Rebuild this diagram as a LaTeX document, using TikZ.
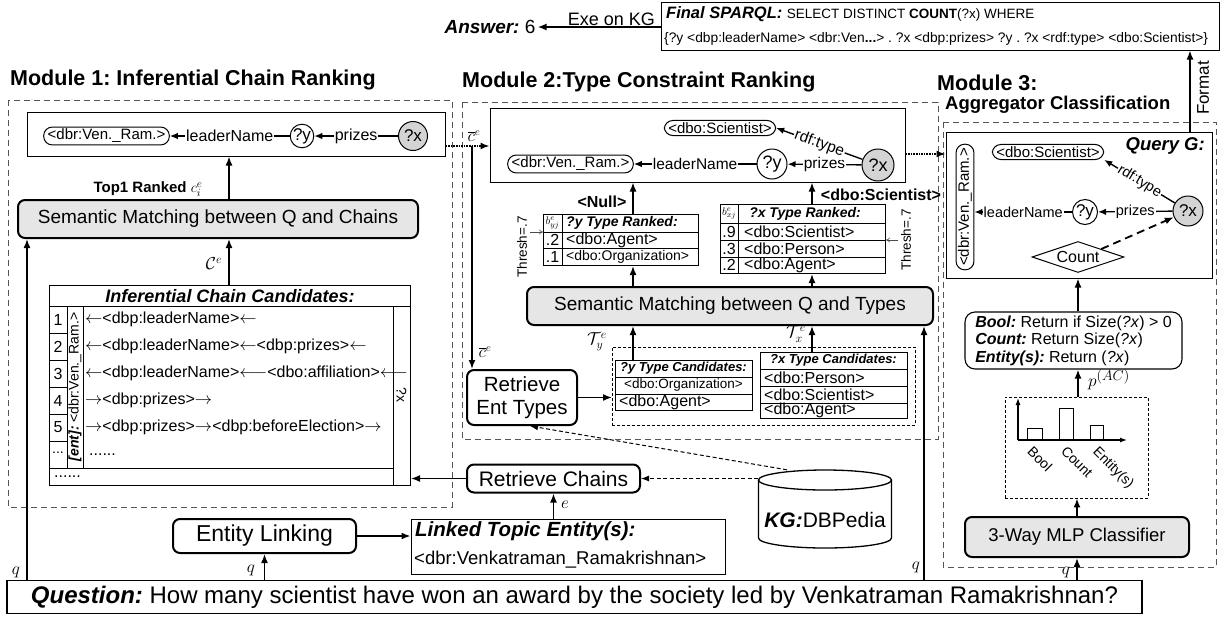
\documentclass[tikz,border=0pt]{standalone}
\usepackage{fontspec}
\setmainfont{Liberation Sans}
\usetikzlibrary{arrows.meta,shapes.geometric,calc}
\newcommand\fs[2]{\fontsize{#1}{#2}\selectfont}
\definecolor{boxgray}{HTML}{E6E6E6}
\definecolor{nodegray}{HTML}{D4D4D4}
\definecolor{dashgray}{HTML}{555555}
\frenchspacing
\begin{document}
\begin{tikzpicture}[x=1pt,y=-1pt,
  arr/.style={line width=1.6pt,-{Latex[length=9pt,width=7pt]}},
  garr/.style={line width=1.4pt,-{Latex[length=8pt,width=6.5pt]}},
  dotarr/.style={line width=1.6pt,densely dotted,-{Latex[length=9pt,width=7pt]}},
  dasharr/.style={line width=1pt,dash pattern=on 4pt off 2.5pt,-{Latex[length=8pt,width=6pt]}},
  thinarr/.style={line width=0.6pt,draw=black!70,-{To[length=4pt,width=5pt]}},
  modbox/.style={draw=dashgray,line width=0.8pt,dash pattern=on 6pt off 4pt},
  rbox/.style={draw,line width=2pt,rounded corners=7pt,align=center,inner sep=0pt,fill=white},
  gbox/.style={rbox,fill=boxgray},
  plainbox/.style={draw,line width=1pt,inner sep=0pt},
  pill/.style={draw,line width=1pt,rounded corners=8.5pt,inner xsep=4pt,inner ysep=2pt,fill=white},
  circ/.style={draw,circle,line width=1pt,inner sep=0pt,fill=white},
  xcirc/.style={circ,fill=nodegray},
  elab/.style={fill=white,inner sep=1pt},
  title/.style={font=\fs{21.5}{24}\bfseries,anchor=west,inner sep=0pt},
  tline/.style={line width=0.9pt},
  rowt/.style={anchor=west,inner sep=0pt,font=\fs{16}{18}},
  lbl/.style={inner sep=0pt},
]
\fill[white] (0,0) rectangle (1223,619);
\useasboundingbox (0,0) rectangle (1223,619);

% ---------------- top ----------------
\node[plainbox,minimum width=558,minimum height=48] (sparql) at (940,26) {};
\node[lbl,anchor=west] (sq1) at (666,14) {\fs{16.5}{18}\textbf{\textit{Final SPARQL:}} \fs{13.5}{16}SELECT DISTINCT \textbf{COUNT}(?x) WHERE};
\node[lbl,anchor=west] (sq2) at (664,39) {\fs{13.8}{15}\{?y <dbp:leaderName> <dbr:Ven\textbf{...}> . ?x <dbp:prizes> ?y . ?x <rdf:type> <dbo:Scientist>\}};
\node[inner sep=2pt,font=\fs{19}{22}] (ans) at (490,27) {\textbf{\textit{Answer:}} 6};
\draw[arr] (sparql.west |- ans.east) -- node[above=1pt,pos=0.4,inner sep=0pt,font=\fs{18}{20}] {Exe on KG} (ans.east);

% ---------------- Module 1 ----------------
\node[title] (t1) at (10,80) {Module 1: Inferential Chain Ranking};
\draw[modbox] (8,100) rectangle (452,507);
\node[plainbox,minimum width=418,minimum height=44] (g1) at (236,134) {};
\node[pill,font=\fs{15}{17}] (ven1) at (106.5,136) {<dbr:Ven.\_Ram.>};
\node[circ,minimum size=23,font=\fs{17}{19}] (y1) at (302,136) {?y};
\node[xcirc,minimum size=29,font=\fs{17}{19}] (x1) at (413,136) {?x};
\draw[garr] (y1) -- node[elab,font=\fs{16}{18}] {leaderName} (ven1);
\draw[garr] (x1) -- node[elab,font=\fs{16}{18}] {prizes} (y1);
\node[gbox,minimum width=400,minimum height=38,font=\fs{19}{22}] (sem1) at (218,219) {Semantic Matching between Q and Chains};
\coordinate (a1) at (229,0);
\draw[arr] (sem1.north -| a1) -- (g1.south -| a1);
\node[font=\fs{15}{17}\bfseries] (top1) at (148,189) {Top1 Ranked $c_i^e$};

\node[plainbox,minimum width=361,minimum height=200,anchor=north west] (cand) at (49,285) {};
\draw[tline] (49,306) -- (410,306);
\draw[tline] (393,306) -- (393,485);
\draw[tline] (49,468) -- (393,468);
\draw[tline] (67,306) -- (67,468);
\draw[tline] (83,306) -- (83,468);
\foreach \yy in {333,360,387,414,441} \draw[tline] (49,\yy) -- (67,\yy);
\node[font=\fs{18}{20}\bfseries\itshape] (candh) at (230,296) {Inferential Chain Candidates:};
\foreach \k/\yy in {1/319.5,2/346.5,3/373.5,4/400.5,5/427.5} \node[font=\fs{16}{18}] at (58,\yy) {\k};
\node[font=\fs{14}{16}] at (58,453) {...};
\node[rotate=90,font=\fs{14}{16}] (entl) at (75,387) {\textbf{\textit{[ent]:}} <dbr:Ven.\_Ram.>};
\node[rotate=-90,font=\fs{14}{16}] (qxl) at (401.5,395) {?x};
\node[rowt] at (85,319.5) {$\leftarrow$<dbp:leaderName>$\leftarrow$};
\node[rowt] at (85,346.5) {$\leftarrow$<dbp:leaderName>$\leftarrow$<dbp:prizes>$\leftarrow$};
\node[rowt] at (85,373.5) {$\leftarrow$<dbp:leaderName>$\longleftarrow$<dbo:affiliation>$\longleftarrow$};
\node[rowt] at (85,400.5) {$\rightarrow$<dbp:prizes>$\rightarrow$};
\node[rowt] at (85,427.5) {$\rightarrow$<dbp:prizes>$\rightarrow$<dbp:beforeElection>$\rightarrow$};
\node[rowt] at (89,454.5) {......};
\node[rowt] at (54,477) {......};
\draw[arr] (cand.north -| a1) -- (sem1.south -| a1);
\node[font=\fs{17}{19}] at (214,264) {$\mathcal{C}^e$};

% ---------------- Module 2 ----------------
\node[title] (t2) at (462,82) {Module 2:Type Constraint Ranking};
\draw[modbox] (462,102) rectangle (938,439);
\node[plainbox,minimum width=415,minimum height=74] (g2) at (697.5,145) {};
\node[pill,font=\fs{15}{17}] (sci2) at (720,128) {<dbo:Scientist>};
\node[pill,font=\fs{15}{17}] (ven2) at (570.5,164) {<dbr:Ven.\_Ram.>};
\node[circ,minimum size=30,font=\fs{18}{20}] (y2) at (772,164) {?y};
\node[xcirc,minimum size=32,font=\fs{18}{20}] (x2) at (878,165) {?x};
\draw[garr] (y2) -- node[elab,font=\fs{15.5}{18}] {leaderName} (ven2);
\draw[garr] (x2) -- node[elab,font=\fs{15.5}{18}] {prizes} (y2);
\draw[garr] (x2) -- node[elab,sloped,font=\fs{15.5}{18}] {rdf:type} (sci2.east);

\coordinate (cb) at (472,146);
\draw[dotarr] (g1.east |- cb) -- (g2.west |- cb);
\node[font=\fs{16}{18}] at (474,136) {$\overline{c}^e$};

\node[plainbox,minimum width=155,minimum height=51,anchor=north west] (yrank) at (543,214) {};
\draw[tline] (543,232) -- (698,232);
\draw[tline] (543,248) -- (698,248);
\draw[tline] (562,214) -- (562,265);
\node[font=\fs{11}{12}] at (552.5,223) {$b^e_{yj}$};
\node[lbl,anchor=west,font=\fs{14}{16}\bfseries\itshape] at (566,223) {?y Type Ranked:};
\node[font=\fs{16}{18}] at (552.5,240) {.2};
\node[font=\fs{16}{18}] at (552.5,256.5) {.1};
\node[lbl,anchor=west,font=\fs{16}{18}] at (566,240) {<dbo:Agent>};
\node[lbl,anchor=west,font=\fs{14}{16}] at (566,256.5) {<dbo:Organization>};
\node[rotate=90,font=\fs{13.5}{15}] (thy) at (522,247) {Thresh=.7};
\coordinate (th1) at (530,232);
\draw[thinarr] (th1) -- (th1 -| yrank.west);

\node[plainbox,minimum width=165,minimum height=69,anchor=north west] (xrank) at (720,204) {};
\draw[tline] (720,223) -- (885,223);
\draw[tline] (720,240) -- (885,240);
\draw[tline] (720,257) -- (885,257);
\draw[tline] (738,204) -- (738,273);
\node[font=\fs{11}{12}] at (729,213.5) {$b^e_{xj}$};
\node[font=\fs{14}{16}\bfseries\itshape] at (805,213.5) {?x Type Ranked:};
\node[font=\fs{16}{18}] at (729,231.5) {.9};
\node[font=\fs{16}{18}] at (729,248.5) {.3};
\node[font=\fs{16}{18}] at (729,265) {.2};
\node[lbl,anchor=west,font=\fs{16}{18}] at (744,231.5) {<dbo:Scientist>};
\node[lbl,anchor=west,font=\fs{16}{18}] at (744,248.5) {<dbo:Person>};
\node[lbl,anchor=west,font=\fs{16}{18}] at (744,265) {<dbo:Agent>};
\node[rotate=90,font=\fs{13.5}{15}] (thx) at (906,240) {Thresh=.7};
\coordinate (th2) at (898,240);
\draw[thinarr] (th2) -- (th2 -| xrank.east);

\coordinate (ax1) at (633,0);
\coordinate (ax2) at (812,0);
\draw[arr] (yrank.north -| ax1) -- (g2.south -| ax1);
\draw[arr] (xrank.north -| ax2) -- (g2.south -| ax2);
\node[font=\fs{16}{18}\bfseries] at (602,202) {<Null>};
\node[font=\fs{16}{18}\bfseries] at (881,195) {<dbo:Scientist>};

\node[gbox,minimum width=406,minimum height=38,font=\fs{19}{22}] (sem2) at (730,306) {Semantic Matching between Q and Types};
\draw[arr] (sem2.north -| ax1) -- (yrank.south -| ax1);
\draw[arr] (sem2.north -| ax2) -- (xrank.south -| ax2);

\node[draw,line width=0.9pt,dash pattern=on 3pt off 2pt,minimum width=303,minimum height=78,inner sep=0pt,anchor=north west] (candbox) at (612,347) {};
\node[plainbox,minimum width=137,minimum height=50,anchor=north west,fill=white] (ycand) at (615,360) {};
\draw[tline] (615,377) -- (752,377);
\draw[tline] (615,394) -- (752,394);
\node[font=\fs{13}{15}\bfseries\itshape] at (683.5,368.5) {?y Type Candidates:};
\node[font=\fs{13.5}{15}] at (683.5,385.5) {<dbo:Organization>};
\node[lbl,anchor=west,font=\fs{16}{18}] at (619,402) {<dbo:Agent>};

\node[plainbox,minimum width=147,minimum height=66,anchor=north west,fill=white] (xcand) at (760,352) {};
\draw[tline] (760,369) -- (907,369);
\draw[tline] (760,386) -- (907,386);
\draw[tline] (760,403) -- (907,403);
\node[font=\fs{13}{15}\bfseries\itshape] at (833.5,360.5) {?x Type Candidates:};
\node[lbl,anchor=west,font=\fs{16}{18}] at (764,377.5) {<dbo:Person>};
\node[lbl,anchor=west,font=\fs{16}{18}] at (764,394.5) {<dbo:Scientist>};
\node[lbl,anchor=west,font=\fs{16}{18}] at (764,410.5) {<dbo:Agent>};

\draw[arr] (ycand.north -| ax1) -- (sem2.south -| ax1);
\draw[arr] (xcand.north -| ax2) -- (sem2.south -| ax2);
\node[font=\fs{17}{19}] at (597,342) {$\mathcal{T}_y^e$};
\node[font=\fs{17}{19}] at (796,334) {$\mathcal{T}_x^e$};

\node[rbox,minimum width=110,minimum height=55,font=\fs{20.5}{23}] (retent) at (522,397.5) {Retrieve\\Ent Types};
\draw[arr] (cb) -- (retent.north -| cb);
\node[font=\fs{16}{18}] at (485,352) {$\overline{c}^e$};
\draw[arr] (retent.east) -- (retent.east -| candbox.west);

% ---------------- Module 3 ----------------
\node[title] (t3) at (937,83) {Module 3:};
\node[lbl,anchor=west,font=\fs{18.5}{21}\bfseries] (t3b) at (945,105) {Aggregator Classification};
\draw[modbox] (943,122) rectangle (1216,567);
\node[plainbox,minimum width=266,minimum height=146] (qg) at (1079,205) {};
\node[lbl,anchor=east,font=\fs{18.5}{21}\bfseries\itshape] at (1205,146) {Query G:};
\node[pill,rotate=90,font=\fs{15}{17}] (ven3) at (965,207) {<dbr:Ven.\_Ram.>};
\node[pill,font=\fs{15}{17}] (sci3) at (1048,152) {<dbo:Scientist>};
\node[circ,minimum size=25,font=\fs{17}{19}] (y3) at (1085,212) {?y};
\node[xcirc,minimum size=30,font=\fs{17}{19}] (x3) at (1188,211) {?x};
\draw[garr] (y3) -- node[elab,font=\fs{14.5}{17}] {leaderName} (y3 -| ven3.south);
\draw[garr] (x3) -- node[elab,font=\fs{14.5}{17}] {prizes} (y3);
\draw[garr] (x3) -- node[elab,sloped,font=\fs{14.5}{17}] {rdf:type} (sci3.-8);
\node[draw,diamond,aspect=3,line width=1pt,inner sep=0.5pt,minimum width=92,minimum height=31,font=\fs{16}{18},fill=white] (count) at (1078,257) {Count};
\draw[line width=1.8pt,dash pattern=on 8pt off 5pt,-{Latex[length=9pt,width=7pt]}] (count.north east) -- (x3);

\coordinate (ax3) at (1078,0);
\node[draw,line width=1.1pt,rounded corners=10pt,minimum width=217,minimum height=57,align=left,inner sep=0pt,font=\fs{16}{17.5}] (bool) at (1073.5,340.5) {\textbf{\textit{Bool:}} Return if Size(\textit{?x}) > 0\\\textbf{\textit{Count:}} Return Size(\textit{?x})\\\textbf{\textit{Entity(s):}} Return (\textit{?x})};
\draw[arr] (bool.north -| ax3) -- (qg.south -| ax3);

\node[draw,line width=0.9pt,dash pattern=on 3pt off 2pt,minimum width=143,minimum height=101,inner sep=0pt] (hist) at (1076.5,447.5) {};
\draw[arr] (hist.north -| ax3) -- (bool.south -| ax3);
\node[font=\fs{19}{21}] at (1109,380) {$p^{(AC)}$};
\coordinate (org) at (1018,440);
\draw[line width=1.2pt,-{Latex[length=7pt,width=5pt]}] (org) -- (1018,398);
\draw[line width=1.2pt,-{Latex[length=7pt,width=5pt]}] (org) -- (1127,440);
\draw[line width=1pt] (1027,440) rectangle (1042,428);
\draw[line width=1pt] (1059,440) rectangle (1073,408);
\draw[line width=1pt] (1090,440) rectangle (1103,425);
\node[rotate=-45,font=\fs{14}{16}] at (1040,459) {Bool};
\node[rotate=-45,font=\fs{14}{16}] at (1077,462) {Count};
\node[rotate=-45,font=\fs{14}{16}] at (1113,468) {Entity(s)};

\node[gbox,minimum width=224,minimum height=40,font=\fs{18.5}{21}] (mlp) at (1077,537) {3-Way MLP Classifier};
\draw[arr] (mlp.north) -- (hist.south -| mlp.north);

\coordinate (cc) at (0,154);
\draw[dotarr] (g2.east |- cc) -- (qg.west |- cc);

\coordinate (fm) at (1190,0);
\draw[arr] (qg.north -| fm) -- (sparql.south -| fm);
\node[rotate=90,font=\fs{17}{19}] at (1203,88) {Format};

% ---------------- bottom ----------------
\node[draw,line width=1.2pt,minimum width=1135,minimum height=33,inner sep=0pt,font=\fs{24}{27}] (qbox) at (574.5,597) {\textbf{\textit{Question:}} How many scientist have won an award by the society led by Venkatraman Ramakrishnan?};

\node[rbox,minimum width=173,minimum height=28,font=\fs{21}{23}] (retch) at (553.5,478.5) {Retrieve Chains};
\draw[arr] (retch.west) -- (retch.west -| cand.east);

\node[rbox,minimum width=183,minimum height=34,font=\fs{23}{25}] (el) at (264.5,536) {Entity Linking};
\node[plainbox,minimum width=314,minimum height=55] (linked) at (568,546.5) {};
\node[lbl,anchor=west,font=\fs{20.5}{23}\bfseries\itshape] at (415,531) {Linked Topic Entity(s):};
\node[lbl,anchor=west,font=\fs{18.5}{21}] at (414,560) {<dbr:Venkatraman\_Ramakrishnan>};
\draw[arr] (el.east) -- (el.east -| linked.west);
\draw[arr] (linked.north -| retch.south) -- (retch.south);
\node[font=\fs{17}{19}] at (565,505) {$e$};

% KG cylinder
\node[minimum width=133,minimum height=84,inner sep=0pt] (kg) at (825,510) {};
\draw[line width=1.3pt,fill=white] (758.5,480) -- (758.5,538) arc[start angle=180,end angle=360,x radius=66.5pt,y radius=10pt] -- (891.5,480);
\draw[line width=1.3pt] (825,480) ellipse [x radius=66.5pt,y radius=10pt];
\node[font=\fs{21}{23}] at (825,520) {\textbf{\textit{KG:}}DBPedia};
\draw[dasharr] (kg.west |- retch.east) -- (retch.east);
\draw[dasharr] ($(kg.north)+(-38,2)$) -- ($(retent.south)+(8,0)$);

% q connectors
\coordinate (a0) at (27,0);
\coordinate (a2) at (924,0);
\draw[arr] (qbox.north -| a0) -- (sem1.south -| a0);
\draw[arr] (qbox.north -| el.south) -- (el.south);
\draw[arr] (qbox.north -| a2) -- (sem2.south -| a2);
\draw[arr] (qbox.north -| mlp.south) -- (mlp.south);
\node[font=\fs{17}{19}] at (16,572) {$q$};
\node[font=\fs{17}{19}] at (251,570) {$q$};
\node[font=\fs{17}{19}] at (916,567) {$q$};
\node[font=\fs{17}{19}] at (1066,572) {$q$};
\end{tikzpicture}
\end{document}
